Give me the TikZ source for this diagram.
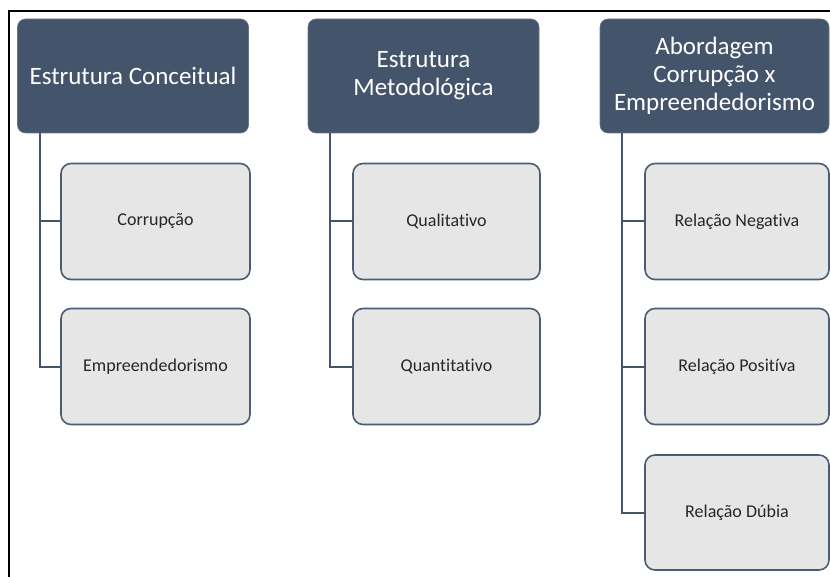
\documentclass[tikz,border=0pt]{standalone}
\usepackage{fontspec}
\setmainfont{Carlito}[Ligatures={NoCommon}]
\definecolor{slate}{HTML}{44546A}
\definecolor{slateedge}{HTML}{4B5D74}
\definecolor{leaf}{HTML}{E7E6E6}
\definecolor{leaftext}{HTML}{262626}
\tikzset{
  header/.style={fill=slate, draw=slate!80!white, line width=0.6pt, rounded corners=8pt,
    text=white, font=\fontsize{25}{28}\selectfont, align=center,
    minimum width=231pt, minimum height=114pt, inner sep=0pt, outer sep=0pt},
  leafbox/.style={fill=leaf, draw=slateedge, line width=1.6pt, rounded corners=10pt,
    text=leaftext, font=\fontsize{18}{21}\selectfont, align=center,
    minimum height=116pt, inner sep=0pt, outer sep=0pt},
  link/.style={draw=slate, line width=2pt}
}
\begin{document}
\begin{tikzpicture}[x=1pt, y=-1pt]
  \useasboundingbox (0,0) rectangle (830,577);
  % frame lines
  \coordinate (ftl) at (9,11);
  \coordinate (ftr) at (830,11);
  \coordinate (fbl) at (9,577);
  \draw[line width=1.5pt, line cap=rect] (ftr) -- (ftl) -- (fbl);

  % column headers
  \node[header] (h1) at (133,76) {Estrutura Conceitual};
  \node[header] (h2) at (423.5,76) {Estrutura\\Metodológica};
  \node[header, minimum width=229pt] (h3) at (714.5,76) {Abordagem\\Corrupção x\\Empreendedorismo};

  % first column
  \node[leafbox, minimum width=189pt] (c11) at (155.5,221.5) {Corrupção};
  \node[leafbox, minimum width=189pt] (c12) at (155.5,366.5) {Empreendedorismo};

  % second column
  \node[leafbox, minimum width=187pt] (c21) at (446.5,221.5) {Qualitativo};
  \node[leafbox, minimum width=187pt] (c22) at (446.5,366.5) {Quantitativo};

  % third column
  \node[leafbox, minimum width=184pt] (c31) at (737,221.5) {Relação Negativa};
  \node[leafbox, minimum width=184pt] (c32) at (737,366.5) {Relação Positíva};
  \node[leafbox, minimum width=184pt, minimum height=115pt] (c33) at (737,512.5) {Relação Dúbia};

  % connectors
  \draw[link] ([xshift=22pt]h1.south west) |- (c11.west);
  \draw[link] ([xshift=22pt]h1.south west) |- (c12.west);
  \draw[link] ([xshift=22pt]h2.south west) |- (c21.west);
  \draw[link] ([xshift=22pt]h2.south west) |- (c22.west);
  \draw[link] ([xshift=22pt]h3.south west) |- (c31.west);
  \draw[link] ([xshift=22pt]h3.south west) |- (c32.west);
  \draw[link] ([xshift=22pt]h3.south west) |- (c33.west);
\end{tikzpicture}
\end{document}
